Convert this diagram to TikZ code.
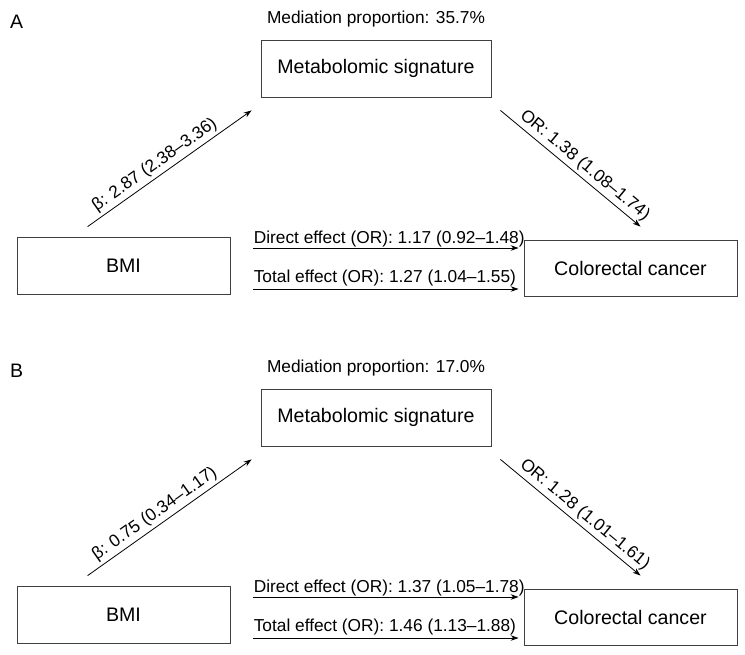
\documentclass[tikz,border=0pt]{standalone}
\usepackage{fontspec}
\setmainfont{Liberation Sans}
\usetikzlibrary{arrows.meta,calc}
\tikzset{
  box/.style={draw=black!75, line width=0.8pt, minimum height=57pt, inner sep=0pt, font=\fontsize{19.6pt}{22pt}\selectfont},
  lbl/.style={font=\fontsize{17.3pt}{20pt}\selectfont, inner sep=0pt},
  panellbl/.style={font=\fontsize{19.5pt}{22pt}\selectfont, inner sep=0pt},
  arr/.style={draw=black, line width=0.8pt, -{Stealth[length=8pt,width=5.5pt]}},
}
\newcommand\mypanel[8]{%
  \begin{scope}[shift={(0,#8)}]
    \node[panellbl, anchor=base west] (#1L) at (10,28) {#2};
    \node[lbl, anchor=base] (#1P) at (376,23) {Mediation proportion: #3};
    \node[box, minimum width=230pt] (#1M) at (376,68.5) {Metabolomic signature};
    \node[box, minimum width=213pt] (#1B) at (123.5,265.5) {BMI};
    \node[box, minimum width=213pt, minimum height=56pt] (#1C) at (630.5,268) {Colorectal cancer};
    \draw[arr] ([xshift=71pt,yshift=10pt]#1B.north west) --
      node[lbl, above=3pt, sloped, pos=0.45] {β: #4}
      ([xshift=-9pt,yshift=-13pt]#1M.south west);
    \draw[arr] ([xshift=9pt,yshift=-13pt]#1M.south east) --
      node[lbl, above=3pt, sloped, pos=0.55] {OR: #5}
      ([xshift=10pt,yshift=13pt]#1C.north);
    \draw[arr] ($(#1B.east|-0,248)+(23,0)$) --
      node[lbl, anchor=base west, pos=0, yshift=5pt] {Direct effect (OR): #6}
      ($(#1C.west|-0,248)+(-5,0)$);
    \draw[arr] ($(#1B.east|-0,289)+(23,0)$) --
      node[lbl, anchor=base west, pos=0, yshift=7pt] {Total effect (OR): #7}
      ($(#1C.west|-0,289)+(-5,0)$);
  \end{scope}%
}
\begin{document}
\begin{tikzpicture}[x=1pt, y=-1pt]
  \fill[white] (0,0) rectangle (745,654);
  \useasboundingbox (0,0) rectangle (745,654);
  \mypanel{a}{A}{35.7\%}{2.87 (2.38–3.36)}{1.38 (1.08–1.74)}{1.17 (0.92–1.48)}{1.27 (1.04–1.55)}{0}
  \mypanel{b}{B}{17.0\%}{0.75 (0.34–1.17)}{1.28 (1.01–1.61)}{1.37 (1.05–1.78)}{1.46 (1.13–1.88)}{349}
\end{tikzpicture}
\end{document}
